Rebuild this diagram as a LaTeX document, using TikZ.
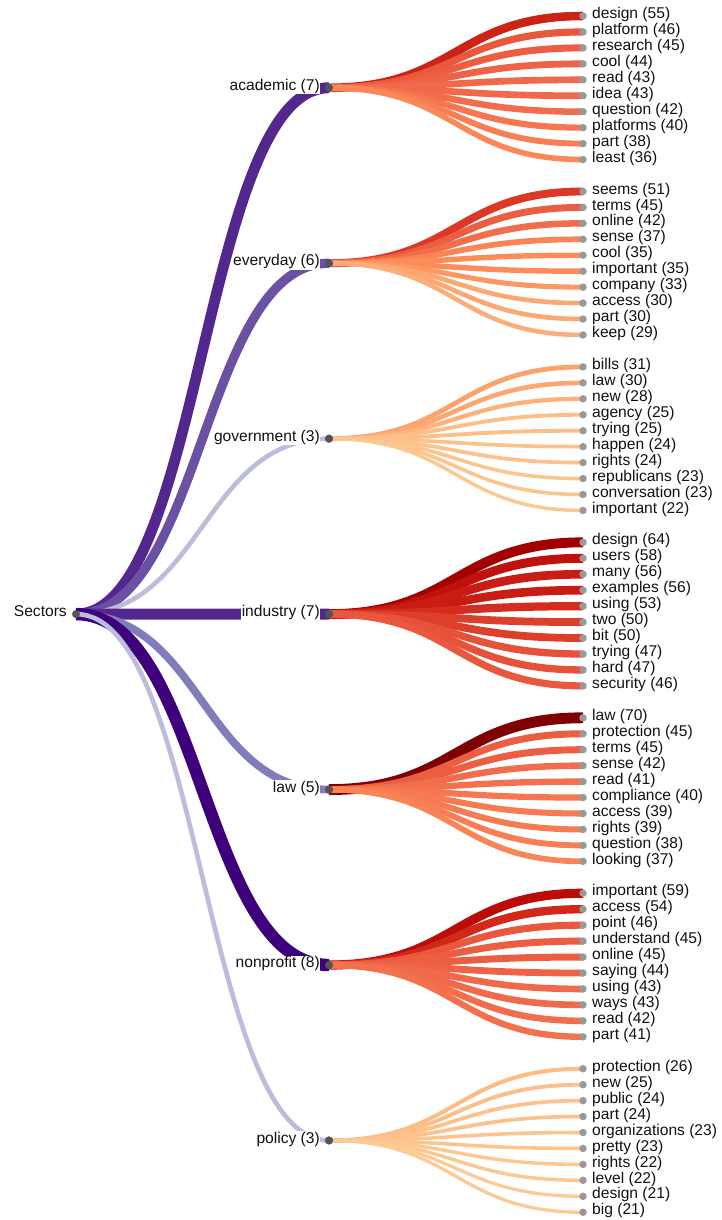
\documentclass[tikz,border=0pt]{standalone}
\usepackage{fontspec}
\setmainfont{Liberation Sans}
\usetikzlibrary{calc}
\pgfdeclarelayer{links}
\pgfsetlayers{links,main}
\definecolor{or0}{HTML}{FFF7EC}
\definecolor{or1}{HTML}{FEE8C8}
\definecolor{or2}{HTML}{FDD49E}
\definecolor{or3}{HTML}{FDBB84}
\definecolor{or4}{HTML}{FC8D59}
\definecolor{or5}{HTML}{EF6548}
\definecolor{or6}{HTML}{D7301F}
\definecolor{or7}{HTML}{B30000}
\definecolor{or8}{HTML}{7F0000}
\definecolor{pu0}{HTML}{FCFBFD}
\definecolor{pu1}{HTML}{EFEDF5}
\definecolor{pu2}{HTML}{DADAEB}
\definecolor{pu3}{HTML}{BCBDDC}
\definecolor{pu4}{HTML}{9E9AC8}
\definecolor{pu5}{HTML}{807DBA}
\definecolor{pu6}{HTML}{6A51A3}
\definecolor{pu7}{HTML}{54278F}
\definecolor{pu8}{HTML}{3F007D}
\definecolor{leafgrey}{HTML}{999999}
\definecolor{dotgrey}{HTML}{555555}
\definecolor{txt}{HTML}{111111}
\newcommand\lblfont{\fontsize{15.6pt}{18pt}\selectfont}
\tikzset{
  leafdot/.style={circle,fill=leafgrey,inner sep=0pt,minimum size=7.5pt},
  innerdot/.style={circle,fill=dotgrey,inner sep=0pt,minimum size=8pt},
  leaflabel/.style={anchor=mid west,font=\lblfont,text=txt,inner sep=0pt,xshift=9pt},
  sectlabel/.style={anchor=mid east,font=\lblfont,text=txt,inner sep=0.6pt,fill=white,xshift=-8.4pt},
  linkline/.style={line cap=butt}
}
\newcommand\drawsector[4]{%
  \pgfmathsetmacro\sy{16+15.95*(11*#1+4.5)}
  \node[innerdot] (s#1) at (329,\sy) {};
  \coordinate (ms#1) at ($(root.center)!.5!(s#1.center)$);
  \pgfmathsetmacro\slw{#3*1.55}
  \begin{pgfonlayer}{links}
    \draw[linkline,line width=\slw pt,color=pu#3] (root.center) .. controls (ms#1 |- root.center) and (ms#1 |- s#1.center) .. (s#1.center);
  \end{pgfonlayer}
  \foreach \w/\c [count=\i from 0] in {#4} {
    \pgfmathsetmacro\ly{16+15.95*(11*#1+\i)}
    \pgfmathsetmacro\tv{\c/70*8}
    \pgfmathtruncatemacro\ka{floor(\tv)}
    \pgfmathtruncatemacro\kb{min(\ka+1,8)}
    \pgfmathtruncatemacro\pc{round((\tv-\ka)*100)}
    \pgfmathsetmacro\llw{\c*0.155}
    \colorlet{lc}{or\kb!\pc!or\ka}
    \node[leafdot] (l#1-\i) at (583,\ly) {};
    \node[leaflabel] (t#1-\i) at (l#1-\i.center) {\w{} (\c)};
    \coordinate (ml#1-\i) at ($(s#1.center)!.5!(l#1-\i.center)$);
    \begin{pgfonlayer}{links}
      \draw[linkline,line width=\llw pt,color=lc] (s#1.center) .. controls (ml#1-\i |- s#1.center) and (ml#1-\i |- l#1-\i.center) .. (l#1-\i.center);
    \end{pgfonlayer}
  }
  \node[innerdot] at (s#1.center) {};
}
\newcommand\sectorlabel[3]{%
  \node[sectlabel] (sl#1) at (s#1.center) {#2 (#3)};
}
\begin{document}
\begin{tikzpicture}[x=1pt,y=-1pt]
\useasboundingbox (0,0) rectangle (721,1220);
\node[innerdot] (root) at (76,614.1) {};
\node[sectlabel,fill=none] (rootlabel) at (root.center) {Sectors};
\drawsector{0}{academic}{7}{design/55,platform/46,research/45,cool/44,read/43,idea/43,question/42,platforms/40,part/38,least/36}
\drawsector{1}{everyday}{6}{seems/51,terms/45,online/42,sense/37,cool/35,important/35,company/33,access/30,part/30,keep/29}
\drawsector{2}{government}{3}{bills/31,law/30,new/28,agency/25,trying/25,happen/24,rights/24,republicans/23,conversation/23,important/22}
\drawsector{3}{industry}{7}{design/64,users/58,many/56,examples/56,using/53,two/50,bit/50,trying/47,hard/47,security/46}
\drawsector{4}{law}{5}{law/70,protection/45,terms/45,sense/42,read/41,compliance/40,access/39,rights/39,question/38,looking/37}
\drawsector{5}{nonprofit}{8}{important/59,access/54,point/46,understand/45,online/45,saying/44,using/43,ways/43,read/42,part/41}
\drawsector{6}{policy}{3}{protection/26,new/25,public/24,part/24,organizations/23,pretty/23,rights/22,level/22,design/21,big/21}
\sectorlabel{0}{academic}{7}
\sectorlabel{1}{everyday}{6}
\sectorlabel{2}{government}{3}
\sectorlabel{3}{industry}{7}
\sectorlabel{4}{law}{5}
\sectorlabel{5}{nonprofit}{8}
\sectorlabel{6}{policy}{3}
\end{tikzpicture}
\end{document}
